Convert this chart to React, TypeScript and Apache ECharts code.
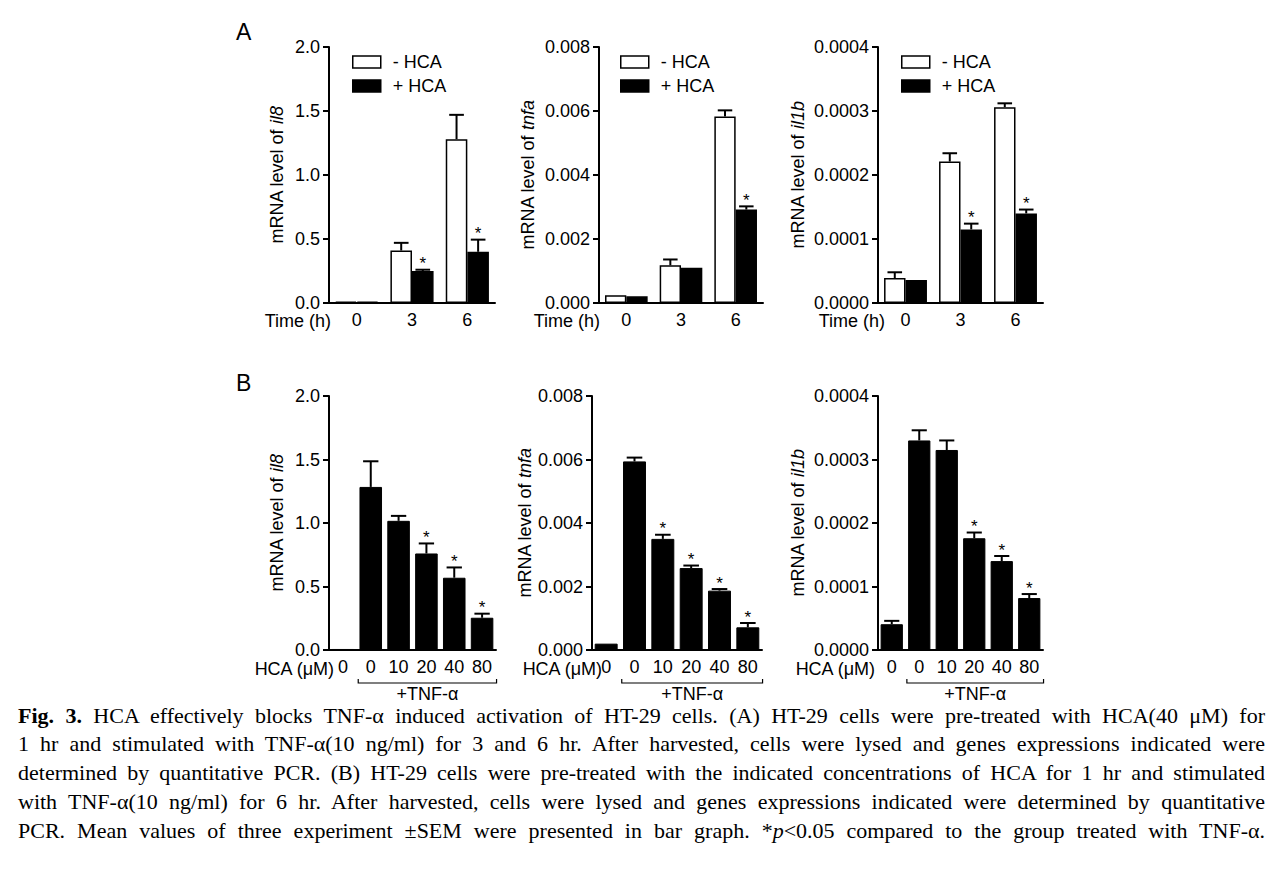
import React, { useEffect, useRef } from 'react';
import * as echarts from 'echarts';

// ---------- categories ----------
const timeCats = ['0', '3', '6'];
const hcaCats = ['0', '0', '10', '20', '40', '80'];
const genes = ['il8', 'tnfa', 'il1b'];

// ---------- axis ranges ----------
const yMax = [2, 0.008, 0.0004];
const yStep = [0.5, 0.002, 0.0001];
const yDigits = [1, 3, 4];

// ---------- Panel A : time course (- HCA / + HCA) ----------
const il8Minus = [0.01, 0.41, 1.28];
const il8MinusErr = [0.01, 0.47, 1.47];
const il8Plus = [0.01, 0.25, 0.4];
const il8PlusErr = [0.01, 0.26, 0.495];
const il8PlusSig = [0, 1, 1];

const tnfaMinus = [0.00024, 0.00118, 0.00583];
const tnfaMinusErr = [0.00025, 0.00136, 0.00602];
const tnfaPlus = [0.00021, 0.0011, 0.00292];
const tnfaPlusErr = [0.00022, 0.00112, 0.00302];
const tnfaPlusSig = [0, 0, 1];

const il1bMinus = [0.000039, 0.000221, 0.000306];
const il1bMinusErr = [0.000048, 0.000234, 0.000312];
const il1bPlus = [0.000036, 0.000115, 0.00014];
const il1bPlusErr = [0.000037, 0.000124, 0.000146];
const il1bPlusSig = [0, 1, 1];

// ---------- Panel B : dose response ----------
const il8Dose = [0.008, 1.284, 1.017, 0.76, 0.569, 0.254];
const il8DoseErr = [0.008, 1.486, 1.056, 0.839, 0.65, 0.286];
const il8DoseSig = [0, 0, 0, 1, 1, 1];

const tnfaDose = [0.0002, 0.00594, 0.0035, 0.00258, 0.00187, 0.000715];
const tnfaDoseErr = [0.0002, 0.00606, 0.00363, 0.00266, 0.00192, 0.00085];
const tnfaDoseSig = [0, 0, 1, 1, 1, 1];

const il1bDose = [0.0000406, 0.00033, 0.000315, 0.000176, 0.00014, 0.0000818];
const il1bDoseErr = [0.0000459, 0.000346, 0.00033, 0.000185, 0.000148, 0.0000881];
const il1bDoseSig = [0, 0, 0, 1, 1, 1];

const aMinus = [il8Minus, tnfaMinus, il1bMinus];
const aMinusErr = [il8MinusErr, tnfaMinusErr, il1bMinusErr];
const aPlus = [il8Plus, tnfaPlus, il1bPlus];
const aPlusErr = [il8PlusErr, tnfaPlusErr, il1bPlusErr];
const aPlusSig = [il8PlusSig, tnfaPlusSig, il1bPlusSig];
const bVals = [il8Dose, tnfaDose, il1bDose];
const bErr = [il8DoseErr, tnfaDoseErr, il1bDoseErr];
const bSig = [il8DoseSig, tnfaDoseSig, il1bDoseSig];

const SANS = "'Liberation Sans', Arial, Helvetica, sans-serif";
const SERIF = "'Liberation Serif', 'Times New Roman', serif";

// layout
const aLeft = [329, 599, 878];
const aWidth = [166, 164, 165];
const bLeft = [329, 592, 878];
const bWidth = [167, 170, 165];
const aNameGap = [43, 62, 71];
const bNameGap = [43, 55, 71];
const legendLeft = [347, 615, 896];
const A_GAP = 0.22;
const B_GAP = 0.19;
const CAP_LEFT = 18;
const CAP_W = 1247;

function errRender(n: number, idx: number, gapFrac: number) {
  return (params: any, api: any) => {
    const ci = api.value(0);
    const v = api.value(1);
    const e = api.value(2);
    const sig = api.value(3);
    const base = api.coord([ci, v]);
    const top = api.coord([ci, e]);
    const band = api.size([1, 0])[0];
    const barW = (band * (1 - gapFrac)) / n;
    const cx = base[0] + (idx - (n - 1) / 2) * barW;
    const cap = barW * 0.34;
    const children: any[] = [];
    if (base[1] - top[1] > 0.8) {
      children.push({
        type: 'line',
        shape: { x1: cx, y1: base[1], x2: cx, y2: top[1] },
        style: { stroke: '#000', lineWidth: 2 },
      });
      children.push({
        type: 'line',
        shape: { x1: cx - cap, y1: top[1], x2: cx + cap, y2: top[1] },
        style: { stroke: '#000', lineWidth: 2 },
      });
    }
    if (sig) {
      children.push({
        type: 'text',
        x: cx,
        y: top[1] - 6,
        style: {
          text: '*',
          fill: '#000',
          fontSize: 17,
          fontFamily: SANS,
          align: 'center',
          verticalAlign: 'middle',
        },
      });
    }
    return { type: 'group', children };
  };
}

function buildOption() {
  const grid: any[] = [];
  const xAxis: any[] = [];
  const yAxis: any[] = [];
  const series: any[] = [];
  const legend: any[] = [];

  const mkX = (g: number, cats: string[]) => ({
    type: 'category',
    gridIndex: g,
    data: cats,
    axisLine: { lineStyle: { color: '#000', width: 2 } },
    axisTick: { alignWithLabel: true, length: 5, lineStyle: { color: '#000', width: 2 } },
    axisLabel: { color: '#000', fontSize: 18, fontFamily: SANS, margin: 8, interval: 0 },
    splitLine: { show: false },
  });
  const mkY = (g: number, k: number, gap: number) => ({
    type: 'value',
    gridIndex: g,
    min: 0,
    max: yMax[k],
    interval: yStep[k],
    axisLine: { show: true, lineStyle: { color: '#000', width: 2 } },
    axisTick: { show: true, length: 6, lineStyle: { color: '#000', width: 2 } },
    axisLabel: {
      color: '#000',
      fontSize: 18,
      fontFamily: SANS,
      margin: 9,
      formatter: (v: number) => v.toFixed(yDigits[k]),
    },
    splitLine: { show: false },
    name: `{n|mRNA level of }{i|${genes[k]}}`,
    nameLocation: 'middle',
    nameGap: gap,
    nameRotate: 90,
    nameTextStyle: {
      color: '#000',
      fontSize: 18,
      fontFamily: SANS,
      rich: {
        n: { fontSize: 18, fontFamily: SANS, color: '#000' },
        i: { fontSize: 18, fontFamily: SANS, fontStyle: 'italic', color: '#000' },
      },
    },
  });

  for (let k = 0; k < 3; k++) {
    grid.push({ left: aLeft[k], top: 47, width: aWidth[k], height: 256 });
    xAxis.push(mkX(k, timeCats));
    yAxis.push(mkY(k, k, aNameGap[k]));
    series.push({
      type: 'bar',
      name: '- HCA',
      xAxisIndex: k,
      yAxisIndex: k,
      data: aMinus[k],
      barGap: '0%',
      barCategoryGap: `${A_GAP * 100}%`,
      itemStyle: { color: '#fff', borderColor: '#000', borderWidth: 1.5 },
    });
    series.push({
      type: 'bar',
      name: '+ HCA',
      xAxisIndex: k,
      yAxisIndex: k,
      data: aPlus[k],
      barGap: '0%',
      barCategoryGap: `${A_GAP * 100}%`,
      itemStyle: { color: '#000', borderColor: '#000', borderWidth: 1.5 },
    });
    series.push({
      type: 'custom',
      xAxisIndex: k,
      yAxisIndex: k,
      clip: false,
      z: 5,
      encode: { x: 0, y: 2 },
      renderItem: errRender(2, 0, A_GAP),
      data: aMinus[k].map((v, i) => [i, v, aMinusErr[k][i], 0]),
    });
    series.push({
      type: 'custom',
      xAxisIndex: k,
      yAxisIndex: k,
      clip: false,
      z: 5,
      encode: { x: 0, y: 2 },
      renderItem: errRender(2, 1, A_GAP),
      data: aPlus[k].map((v, i) => [i, v, aPlusErr[k][i], aPlusSig[k][i]]),
    });
    legend.push({
      left: legendLeft[k],
      top: 48,
      orient: 'vertical',
      itemWidth: 28,
      itemHeight: 12,
      itemGap: 6,
      selectedMode: false,
      textStyle: { color: '#000', fontSize: 18, lineHeight: 18, fontFamily: SANS, padding: [0, 0, 0, 7] },
      data: [
        { name: '- HCA', icon: 'rect', itemStyle: { color: '#fff', borderColor: '#000', borderWidth: 1.5 } },
        { name: '+ HCA', icon: 'rect', itemStyle: { color: '#000', borderColor: '#000', borderWidth: 1.5 } },
      ],
    });
  }

  for (let k = 0; k < 3; k++) {
    const g = 3 + k;
    grid.push({ left: bLeft[k], top: 396, width: bWidth[k], height: 254 });
    xAxis.push(mkX(g, hcaCats));
    yAxis.push(mkY(g, k, bNameGap[k]));
    series.push({
      type: 'bar',
      name: 'dose ' + genes[k],
      xAxisIndex: g,
      yAxisIndex: g,
      data: bVals[k],
      barCategoryGap: `${B_GAP * 100}%`,
      itemStyle: { color: '#000', borderColor: '#000', borderWidth: 1 },
    });
    series.push({
      type: 'custom',
      xAxisIndex: g,
      yAxisIndex: g,
      clip: false,
      z: 5,
      encode: { x: 0, y: 2 },
      renderItem: errRender(1, 0, B_GAP),
      data: bVals[k].map((v, i) => [i, v, bErr[k][i], bSig[k][i]]),
    });
  }

  return {
    animation: false,
    backgroundColor: '#fff',
    grid,
    xAxis,
    yAxis,
    legend,
    series,
  };
}

const timeLabelRight = [331, 600, 885];
const hcaLabelRight = [334, 602, 875];

export default function App() {
  const ref = useRef<HTMLDivElement>(null);
  const capRef = useRef<HTMLDivElement>(null);

  useEffect(() => {
    if (!ref.current) return;
    const chart = echarts.init(ref.current, undefined, { renderer: 'svg' });
    chart.setOption(buildOption() as any);

    const elements: any[] = [];
    const txt = (x: number, y: number, text: string, size: number, align: string) => ({
      type: 'text',
      x,
      y,
      style: { text, fill: '#000', fontSize: size, fontFamily: SANS, align, verticalAlign: 'middle' },
    });
    elements.push(txt(236, 32, 'A', 23, 'left'));
    elements.push(txt(236, 383, 'B', 23, 'left'));
    for (let k = 0; k < 3; k++) {
      elements.push(txt(timeLabelRight[k], 321, 'Time (h)', 18, 'right'));
      elements.push(txt(hcaLabelRight[k], 669, 'HCA (\u03bcM)', 18, 'right'));
      const ax = 3 + k;
      const c1 = chart.convertToPixel({ xAxisIndex: ax } as any, 1) as unknown as number;
      const c2 = chart.convertToPixel({ xAxisIndex: ax } as any, 2) as unknown as number;
      const c5 = chart.convertToPixel({ xAxisIndex: ax } as any, 5) as unknown as number;
      const band = c2 - c1;
      const x1 = c1 - band * 0.45;
      const x2 = c5 + band * 0.52;
      elements.push({
        type: 'polyline',
        shape: { points: [[x1, 679], [x1, 683], [x2, 683], [x2, 679]] },
        style: { stroke: '#000', lineWidth: 1.2, fill: null },
      });
      elements.push(txt((x1 + x2) / 2, 694, '+TNF-\u03b1', 18, 'center'));
    }
    chart.setOption({ graphic: { elements } } as any);

    return () => chart.dispose();
  }, []);

  useEffect(() => {
    const root = capRef.current;
    if (!root) return;
    const spans = root.querySelectorAll('span.capline');
    spans.forEach((node) => {
      const el = node as HTMLSpanElement;
      el.style.wordSpacing = '0px';
      const w = el.getBoundingClientRect().width;
      const spaces = (el.textContent || '').split(' ').length - 1;
      if (spaces > 0) el.style.wordSpacing = `${(CAP_W - w) / spaces}px`;
    });
  }, []);

  const lineStyle: React.CSSProperties = {
    height: 28.75,
    boxSizing: 'border-box',
    paddingTop: 3.5,
    whiteSpace: 'nowrap',
  };
  const spanStyle: React.CSSProperties = {
    display: 'inline-block',
    whiteSpace: 'nowrap',
    lineHeight: '22px',
    verticalAlign: 'top',
  };

  return (
    <div style={{ position: 'fixed', left: 0, top: 0, width: 1278, height: 880, background: '#fff' }}>
      <div ref={ref} style={{ position: 'absolute', left: 0, top: 0, width: 1278, height: 880 }} />
      <div
        ref={capRef}
        style={{
          position: 'absolute',
          left: CAP_LEFT,
          top: 701,
          width: CAP_W,
          fontFamily: SERIF,
          fontSize: 22,
          lineHeight: '22px',
          color: '#000',
        }}
      >
        <div style={lineStyle}>
          <span className="capline" style={spanStyle}>
            <b>Fig. 3.</b> HCA effectively blocks TNF-α induced activation of HT-29 cells. (A) HT-29 cells were pre-treated with HCA(40 μM) for
          </span>
        </div>
        <div style={lineStyle}>
          <span className="capline" style={spanStyle}>
            1 hr and stimulated with TNF-α(10 ng/ml) for 3 and 6 hr. After harvested, cells were lysed and genes expressions indicated were
          </span>
        </div>
        <div style={lineStyle}>
          <span className="capline" style={spanStyle}>
            determined by quantitative PCR. (B) HT-29 cells were pre-treated with the indicated concentrations of HCA for 1 hr and stimulated
          </span>
        </div>
        <div style={lineStyle}>
          <span className="capline" style={spanStyle}>
            with TNF-α(10 ng/ml) for 6 hr. After harvested, cells were lysed and genes expressions indicated were determined by quantitative
          </span>
        </div>
        <div style={lineStyle}>
          <span className="capline" style={spanStyle}>
            PCR. Mean values of three experiment ±SEM were presented in bar graph. *<i>p</i>&lt;0.05 compared to the group treated with TNF-α.
          </span>
        </div>
      </div>
    </div>
  );
}
